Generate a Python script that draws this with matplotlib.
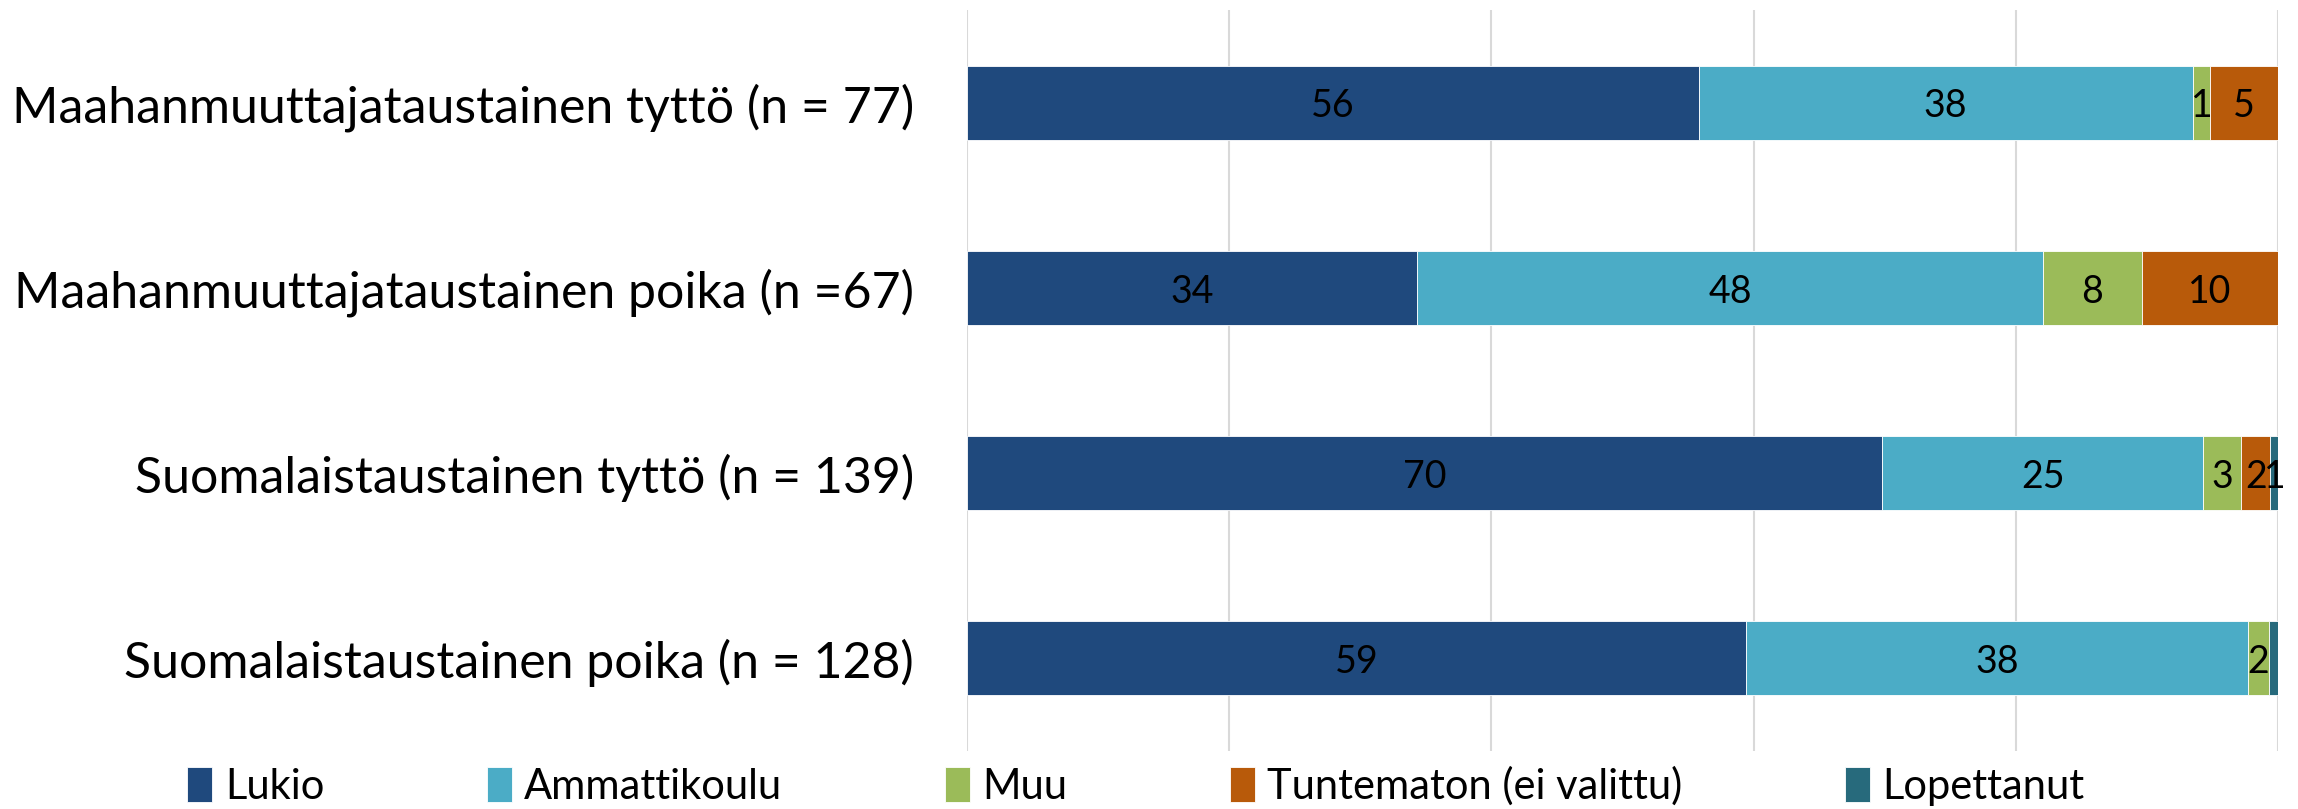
import matplotlib
matplotlib.use("Agg")
import matplotlib.pyplot as plt
import numpy as np

categories = [
    "Maahanmuuttajataustainen tyttö (n = 77)",
    "Maahanmuuttajataustainen poika (n =67)",
    "Suomalaistaustainen tyttö (n = 139)",
    "Suomalaistaustainen poika (n = 128)",
]
series_names = ["Lukio", "Ammattikoulu", "Muu", "Tuntematon (ei valittu)", "Lopettanut"]
# percentages per category
lukio = [55.8, 34.3, 69.8, 59.4]
ammattikoulu = [37.7, 47.8, 24.5, 38.3]
muu = [1.3, 7.5, 2.9, 1.6]
tuntematon = [5.2, 10.4, 2.2, 0.0]
lopettanut = [0.0, 0.0, 0.7, 0.8]
# shown data labels ('' = no label)
lukio_lbl = ["56", "34", "70", "59"]
ammattikoulu_lbl = ["38", "48", "25", "38"]
muu_lbl = ["1", "8", "3", "2"]
tuntematon_lbl = ["5", "10", "2", ""]
lopettanut_lbl = ["", "", "1", ""]

colors = ["#1F497D", "#4BACC6", "#9BBB59", "#B85A0A", "#276A7C"]

plt.rcParams['font.family'] = ['Lato', 'DejaVu Sans']

fig = plt.figure(figsize=(22.98, 8.09), dpi=100)
ax = fig.add_axes([967/2298, 1-751/809, (2278-967)/2298, (751-10)/809])

y = np.arange(len(categories))
data = [lukio, ammattikoulu, muu, tuntematon, lopettanut]
labels = [lukio_lbl, ammattikoulu_lbl, muu_lbl, tuntematon_lbl, lopettanut_lbl]
left = np.zeros(len(categories))
for vals, lbls, name, col in zip(data, labels, series_names, colors):
    vals = np.array(vals)
    ax.barh(y, vals, left=left, height=0.4, color=col, label=name,
            edgecolor="white", linewidth=0.6, zorder=3)
    for i, (v, l) in enumerate(zip(vals, lbls)):
        if l:
            ax.text(left[i] + v/2, y[i] + 0.02, l, ha="center", va="center",
                    fontsize=27, color="black", zorder=4)
    left += vals

ax.set_xlim(0, 100)
ax.set_ylim(len(categories)-0.5, -0.5)
ax.set_xticks([0, 20, 40, 60, 80, 100])
ax.xaxis.grid(True, color="#D9D9D9", linewidth=1.5, zorder=0)
ax.set_xticklabels([])
ax.tick_params(axis="x", length=0)
ax.tick_params(axis="y", length=0, pad=38, labelsize=36)
ax.set_yticks(y)
ax.set_yticklabels(categories)
for s in ax.spines.values():
    s.set_visible(False)

fig.legend(loc="center", bbox_to_anchor=(1136/2298, 1-786/809), ncol=5,
           frameon=False, fontsize=30, handlelength=0.6, handleheight=0.9,
           handletextpad=0.3, columnspacing=3.9)

fig.savefig("out.png", dpi=100)
